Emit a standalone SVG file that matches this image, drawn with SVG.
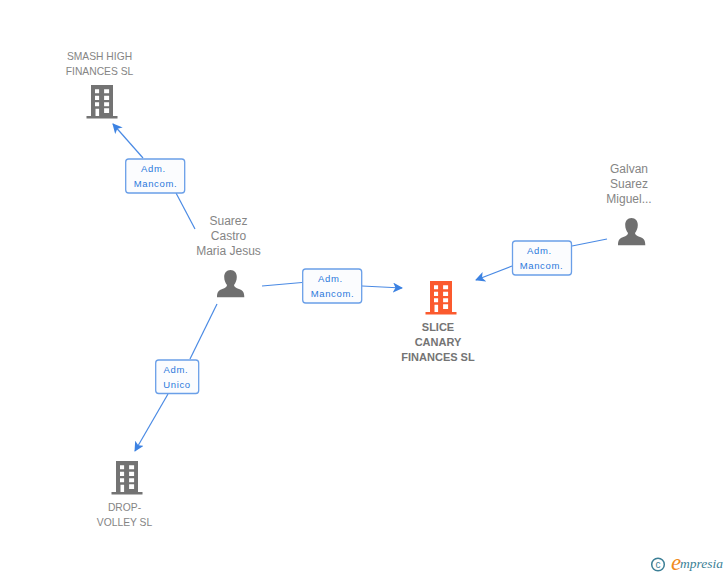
<svg xmlns="http://www.w3.org/2000/svg" width="728" height="575" viewBox="0 0 728 575">
<style>
.n{font:10.3px "Liberation Sans",Arial,sans-serif;fill:#858585;text-anchor:middle}
.p{font:12px "Liberation Sans",Arial,sans-serif;fill:#858585;text-anchor:middle}
.b{font:bold 11px "Liberation Sans",Arial,sans-serif;fill:#747474;text-anchor:middle}
.l{font:9.500px "Liberation Sans",Arial,sans-serif;fill:#2b79dc;text-anchor:middle;letter-spacing:.65px}
.box{fill:#fbfcfe;stroke:#6a9fe8;stroke-width:1.3}
.c{fill:none;stroke:#4a8ae4;stroke-width:1.2}
</style>
<defs>
<marker id="a" markerWidth="12" markerHeight="12" refX="9" refY="5" orient="auto" markerUnits="userSpaceOnUse"><path d="M0 0L10 5L0 10L2.500 5Z" fill="#3c82e2"/></marker>
<symbol id="bld" width="32" height="34" overflow="visible"><path fill-rule="evenodd" d="M4.500 0H26.500V31H31V33.500H0V31H4.500ZM8.500 4.300V8.300H12.600V4.300ZM17.600 4.300V8.300H22.600V4.300ZM8.500 10.700V15H12.600V10.700ZM17.600 10.700V15H22.600V10.700ZM8.500 17.300V21.300H12.600V17.300ZM17.600 17.300V21.300H22.600V17.300ZM9 23.700V31H12.600V23.700ZM17.600 23.300V28H22.600V23.300Z"/></symbol>
<symbol id="per" width="28" height="28" overflow="visible"><path d="M13.500 0C17.500 0 19.800 3 19.800 7C19.800 10.500 18.500 13 17 15C17 17 19 17.800 22 19C25.500 20.300 27.300 21.500 27.300 27.300H0C0 21.500 1.800 20.300 5.300 19C8.300 17.800 10 17 10 15C8.500 13 7.200 10.500 7.200 7C7.200 3 9.500 0 13.500 0Z" fill="#6f6f6f"/></symbol>
</defs>
<g id="connectors">
<path class="c" d="M143 158L113 124" marker-end="url(#a)"/>
<path class="c" d="M176 193L195 229"/>
<path class="c" d="M262 286L302 282.500"/>
<path class="c" d="M362 286L402 288" marker-end="url(#a)"/>
<path class="c" d="M607 239L572 246"/>
<path class="c" d="M512 266L476 280" marker-end="url(#a)"/>
<path class="c" d="M217 304L190 359"/>
<path class="c" d="M168 394L135 451" marker-end="url(#a)"/>
</g>
<g id="node-smash"><use href="#bld" x="86.500" y="85" fill="#737373"/><text class="n" x="99.500" y="60">SMASH HIGH</text><text class="n" x="99.500" y="75">FINANCES SL</text></g>
<g id="node-slice"><use href="#bld" x="425.500" y="281" fill="#fb5a2e"/><text class="b" x="438" y="330.500">SLICE</text><text class="b" x="438" y="345.500">CANARY</text><text class="b" x="438" y="360.500">FINANCES SL</text></g>
<g id="node-drop"><use href="#bld" x="111.500" y="461" fill="#737373"/><text class="n" x="124.500" y="511">DROP-</text><text class="n" x="124.500" y="526">VOLLEY SL</text></g>
<g id="node-suarez"><use href="#per" x="217" y="270"/><text class="p" x="228.500" y="225">Suarez</text><text class="p" x="228.500" y="240">Castro</text><text class="p" x="228.500" y="255">Maria Jesus</text></g>
<g id="node-galvan"><use href="#per" x="618" y="218"/><text class="p" x="629" y="173">Galvan</text><text class="p" x="629" y="188">Suarez</text><text class="p" x="629" y="203">Miguel...</text></g>
<g id="label-1"><rect class="box" x="125.700" y="159" width="59" height="34" rx="3"/><text class="l" x="153.500" y="172">Adm.</text><text class="l" x="155.500" y="187">Mancom.</text></g>
<g id="label-2"><rect class="box" x="302.700" y="269" width="59" height="34" rx="3"/><text class="l" x="330.500" y="282">Adm.</text><text class="l" x="332.500" y="297">Mancom.</text></g>
<g id="label-3"><rect class="box" x="512.500" y="241" width="59" height="34" rx="3"/><text class="l" x="539.500" y="254">Adm.</text><text class="l" x="541.500" y="269">Mancom.</text></g>
<g id="label-4"><rect class="box" x="155.700" y="360" width="43" height="33.500" rx="3"/><text class="l" x="176" y="373">Adm.</text><text class="l" x="177" y="388">Unico</text></g>
<g id="logo"><circle cx="658" cy="564.500" r="6.300" fill="none" stroke="#3c7f96" stroke-width="1.500"/><text x="658" y="568" font-family="Liberation Sans,sans-serif" font-size="10" fill="#3c7f96" text-anchor="middle">c</text><text x="671" y="570" font-family="Liberation Serif,serif" font-style="italic" font-size="23" fill="#f08a1c">e</text><text x="680" y="568" font-family="Liberation Serif,serif" font-style="italic" font-size="13.500" fill="#3c7f96">mpresia</text></g>
</svg>
